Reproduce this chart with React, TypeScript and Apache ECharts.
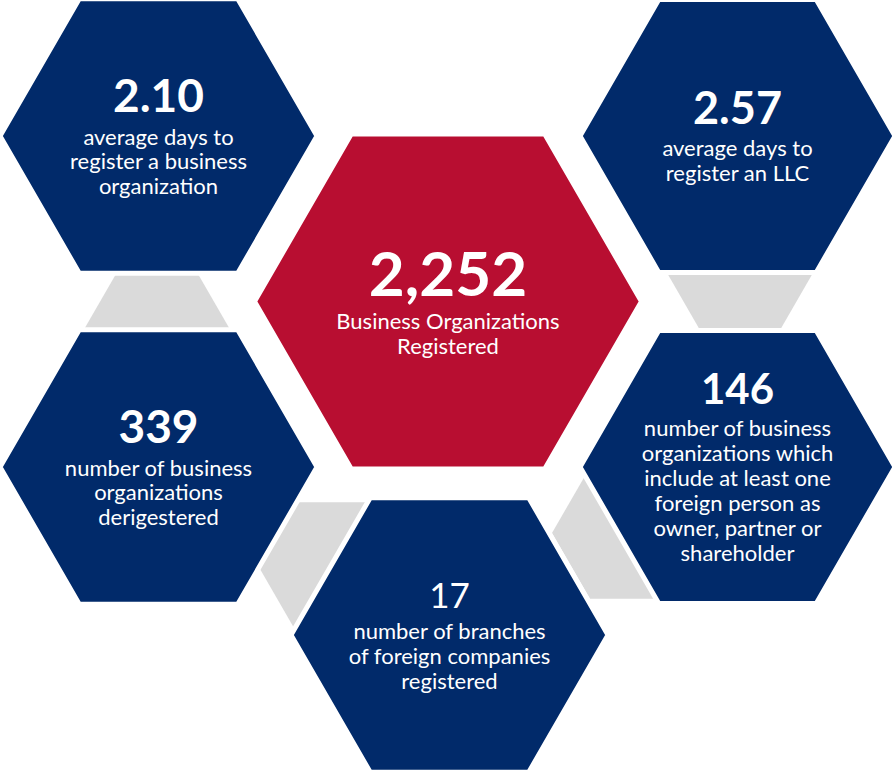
import React, { useEffect, useRef } from "react";
import * as echarts from "echarts";

// ---- content ----
const headlineValues = ["2.10", "2.57", "2,252", "339", "146", "17"];
const descriptions: string[][] = [
  ["average days to", "register a business", "organization"],
  ["average days to", "register an LLC"],
  ["Business Organizations", "Registered"],
  ["number of business", "organizations", "derigestered"],
  [
    "number of business",
    "organizations which",
    "include at least one",
    "foreign person as",
    "owner, partner or",
    "shareholder",
  ],
  ["number of branches", "of foreign companies", "registered"],
];

// ---- layout (data-space units of the hidden axes) ----
const hexCenterX = [158.5, 737.5, 448, 158.5, 737.5, 449.5];
const hexCenterY = [136, 136, 301.5, 467, 467, 635];
const hexRadius = [156, 155, 191, 156, 155, 156];

const linkCenterX = [157, 740, 337, 628];
const linkCenterY = [345, 259, 569, 533];
const linkRadius = [82, 81, 77, 76];

// ---- styles ----
const hexFill = ["#012a6a", "#012a6a", "#b80e31", "#012a6a", "#012a6a", "#012a6a"];
const linkFill = "#dadada";
const numberSize = [46, 45, 62, 46, 42, 35];
const numberWeight = ["bold", "bold", "bold", "bold", "bold", "normal"];
const descSize = [22, 22, 22, 22, 22, 22];
const descLineHeight = [24.5, 24.5, 25, 24.5, 25, 25];
const FONT = "Lato, 'Open Sans', sans-serif";
const STROKE = 5;

function hexPoints(cx: number, cy: number, r: number) {
  const pts: number[][] = [];
  for (let k = 0; k < 6; k++) {
    const a = (Math.PI / 3) * k;
    pts.push([cx + r * Math.cos(a), cy + r * Math.sin(a)]);
  }
  return pts;
}

export default function App() {
  const ref = useRef<HTMLDivElement>(null);

  useEffect(() => {
    if (!ref.current) return;
    const chart = echarts.init(ref.current, null, { renderer: "svg" });

    const linkData = linkCenterX.map((x, i) => [x, linkCenterY[i], linkRadius[i]]);
    const hexData = hexCenterX.map((x, i) => [x, hexCenterY[i], hexRadius[i]]);

    chart.setOption({
      animation: false,
      backgroundColor: "#ffffff",
      grid: { left: 0, right: 0, top: 0, bottom: 0 },
      xAxis: { type: "value", min: 0, max: 892, show: false },
      yAxis: { type: "value", min: 0, max: 771, inverse: true, show: false },
      series: [
        {
          type: "custom",
          name: "links",
          data: linkData,
          silent: true,
          renderItem: (params: any, api: any) => {
            const c = api.coord([api.value(0), api.value(1)]);
            const r = api.size([api.value(2), 0])[0];
            return {
              type: "polygon",
              shape: { points: hexPoints(c[0], c[1], r) },
              style: { fill: linkFill },
            };
          },
        },
        {
          type: "custom",
          name: "stats",
          data: hexData,
          silent: true,
          renderItem: (params: any, api: any) => {
            const i = params.dataIndex;
            const c = api.coord([api.value(0), api.value(1)]);
            const r = api.size([api.value(2), 0])[0];
            const fs = numberSize[i];
            const lines = descriptions[i];
            const lh = descLineHeight[i];
            const capH = fs * 0.72;
            const gap = fs * 0.45 + 20;
            const blockH = capH / 2 + gap + (lines.length - 1) * lh + 10;
            const numY = c[1] + 1 - blockH / 2 + capH / 2;
            const children: any[] = [
              {
                type: "polygon",
                shape: { points: hexPoints(c[0], c[1], r + STROKE / 2) },
                style: { fill: hexFill[i], stroke: "#ffffff", lineWidth: STROKE },
              },
              {
                type: "text",
                style: {
                  text: headlineValues[i],
                  x: c[0],
                  y: numY - fs * 0.01,
                  fill: "#ffffff",
                  fontSize: fs,
                  lineHeight: Math.round(fs * 0.8),
                  fontWeight: numberWeight[i],
                  fontFamily: FONT,
                  align: "center",
                  verticalAlign: "middle",
                },
              },
            ];
            lines.forEach((t, k) => {
              children.push({
                type: "text",
                style: {
                  text: t,
                  x: c[0],
                  y: numY + gap + k * lh,
                  fill: "#ffffff",
                  fontSize: descSize[i],
                  lineHeight: lh - 1,
                  fontFamily: FONT,
                  align: "center",
                  verticalAlign: "middle",
                },
              });
            });
            return { type: "group", children };
          },
        },
      ],
    });

    return () => chart.dispose();
  }, []);

  return (
    <div
      ref={ref}
      style={{ position: "fixed", left: 0, top: 0, width: 892, height: 771, background: "#fff" }}
    />
  );
}
